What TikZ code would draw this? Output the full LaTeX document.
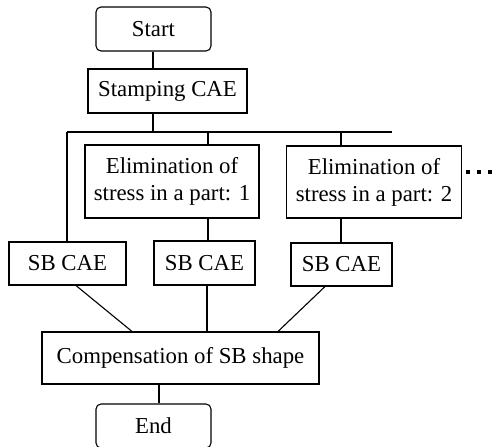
\documentclass[tikz,border=0pt]{standalone}
\usepackage{fontspec}
\setmainfont{Liberation Serif}
\begin{document}
\begin{tikzpicture}[x=1pt,y=-1pt,
  box/.style={draw, line width=1.1pt, inner sep=0pt, align=center, font=\fontsize{22.8}{27}\selectfont},
  rbox/.style={box, rounded corners=5pt},
  conn/.style={line width=1.1pt},
  dotmark/.style={fill, minimum size=3.2pt, inner sep=0pt}]
\useasboundingbox (0,0) rectangle (493,447);
\node[rbox, minimum width=115pt, minimum height=44pt] (start) at (153.5,29) {Start};
\node[box, minimum width=159pt, minimum height=44pt] (stamp) at (167.5,91) {Stamping CAE};
\node[box, minimum width=174pt, minimum height=73pt] (el1) at (172,181.5) {Elimination of\\stress in a part: 1};
\node[box, minimum width=175pt, minimum height=72pt] (el2) at (374,182) {Elimination of\\stress in a part: 2};
\node[box, minimum width=117pt, minimum height=43pt] (sb1) at (67.5,263.5) {SB CAE};
\node[box, minimum width=101pt, minimum height=44pt] (sb2) at (204.5,263) {SB CAE};
\node[box, minimum width=101pt, minimum height=43pt] (sb3) at (341.5,264.5) {SB CAE};
\node[box, minimum width=277pt, minimum height=52pt] (comp) at (180.5,358) {Compensation of SB shape};
\node[rbox, minimum width=115pt, minimum height=44pt] (end) at (153.5,426) {End};
\coordinate (hl) at (67,132);
\coordinate (hr) at (392,132);
\coordinate (hs) at (153,132);
\coordinate (h1) at (208,132);
\coordinate (h2) at (341,132);
\draw[conn] (hl) -- (hr);
\draw[conn] (start.south -| hs) -- (stamp.north -| hs);
\draw[conn] (stamp.south -| hs) -- (hs);
\draw[conn] (hl) -- (sb1.north -| hl);
\draw[conn] (h1) -- (el1.north -| h1);
\draw[conn] (el1.south -| h1) -- (sb2.north -| h1);
\draw[conn] (h2) -- (el2.north -| h2);
\draw[conn] (el2.south -| h2) -- (sb3.north -| h2);
\draw[conn] (sb1.south -| 76,0) -- (comp.north -| 132,0);
\draw[conn] (sb2.south -| 207,0) -- (comp.north -| 207,0);
\draw[conn] (sb3.south -| 325,0) -- (comp.north -| 278,0);
\draw[conn] (comp.south -| 159,0) -- (end.north -| 159,0);
\node[dotmark] (d1) at (468,172) {};
\node[dotmark] (d2) at (479,172) {};
\node[dotmark] (d3) at (490,172) {};
\end{tikzpicture}
\end{document}
